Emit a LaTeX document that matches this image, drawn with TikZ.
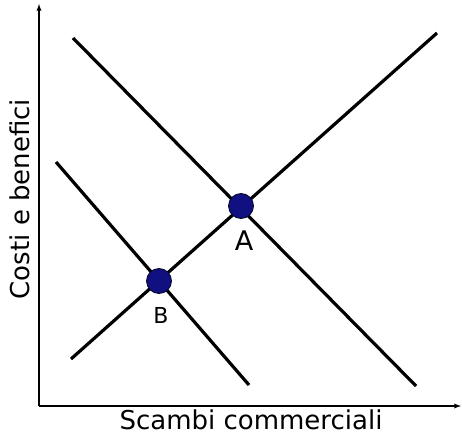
\documentclass[tikz,border=0pt]{standalone}
\usepackage{fontspec}
\setmainfont{DejaVu Sans}
\definecolor{dotblue}{RGB}{16,16,128}
\begin{document}
\begin{tikzpicture}[x=1pt,y=-1pt,
  curve/.style={line width=3.2pt},
  axis/.style={line width=1.3pt,-latex},
  dot/.style={circle,fill=dotblue,draw=black!70!dotblue,line width=0.8pt,minimum size=25pt,inner sep=0pt},
  lab/.style={font=\fontsize{26}{30}\selectfont,inner sep=0pt}]
\useasboundingbox (0,0) rectangle (462,435);
\coordinate (o) at (39,406);
\coordinate (ytip) at (39,4);
\coordinate (xtip) at (461,406);
\draw[axis] (o) -- (ytip);
\draw[axis] (o) -- (xtip);
\coordinate (d1s) at (73,38);
\coordinate (d1e) at (416,386);
\coordinate (us) at (71,359);
\coordinate (ue) at (437,33);
\coordinate (d2s) at (56,162);
\coordinate (d2e) at (249,385);
\draw[curve] (d1s) -- (d1e);
\draw[curve] (us) -- (ue);
\draw[curve] (d2s) -- (d2e);
\node[dot] (A) at (241,206) {};
\node[dot] (B) at (159,281) {};
\node[lab,font=\fontsize{27}{30}\selectfont,anchor=base] (la) at (244,251) {A};
\node[lab,font=\fontsize{22}{26}\selectfont,anchor=base] (lb) at (161,323) {B};
\node[lab,anchor=base] (xl) at (251,429) {Scambi commerciali};
\node[lab,rotate=90,anchor=base] (yl) at (29,199) {Costi e benefici};
\end{tikzpicture}
\end{document}
